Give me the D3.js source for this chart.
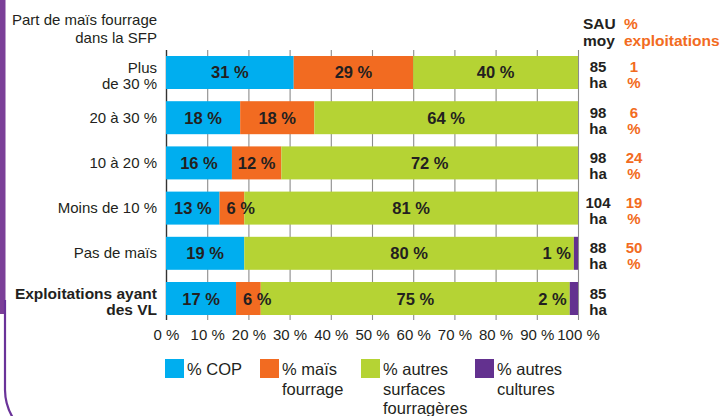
<!DOCTYPE html>
<html>
<head>
<meta charset="utf-8">
<script src="https://cdn.jsdelivr.net/npm/d3@7"></script>
<style>
  html, body { margin: 0; padding: 0; background: #fff; }
  svg { display: block; font-family: "Liberation Sans", Arial, Helvetica, sans-serif; }
</style>
</head>
<body>
<svg id="chart" width="725" height="416"></svg>
<script>
// Categories: share of fodder maize in the forage area (SFP)
const categories = [
  ["Plus", "de 30 %"],
  ["20 à 30 %"],
  ["10 à 20 %"],
  ["Moins de 10 %"],
  ["Pas de maïs"],
  ["Exploitations ayant", "des VL"]
];
const boldCategory = [false, false, false, false, false, true];

// Stacked series (% of the farm area)
const seriesNames = ["% COP", "% maïs fourrage", "% autres surfaces fourragères", "% autres cultures"];
const cop        = [31, 18, 16, 13, 19, 17];
const maisFourr  = [29, 18, 12, 6, 0, 6];
const autresSF   = [40, 64, 72, 81, 80, 75];
const autresCult = [0, 0, 0, 0, 1, 2];

// Right-hand columns
const sauMoy = [85, 98, 98, 104, 88, 85];
const pctExploitations = [1, 6, 24, 19, 50, null];

// Axis ticks
const tickValues = [0, 10, 20, 30, 40, 50, 60, 70, 80, 90, 100];

// Legend text lines
const legendLines = [["% COP"], ["% maïs", "fourrage"], ["% autres", "surfaces", "fourragères"], ["% autres", "cultures"]];

const colors = ["#00aeef", "#f26b21", "#b5d334", "#63318f"];
const textDark = "#231f20";
const orange = "#f26b21";

const svg = d3.select("#chart");

// Frame stroke on the left edge
svg.append("rect").attr("x", 0).attr("y", 0).attr("width", 5.5).attr("height", 314).attr("fill", "#7b3f98");
svg.append("path")
  .attr("d", "M5,300 L5,390 A55,55 0 0 0 13,418")
  .attr("fill", "none").attr("stroke", "#6a3399").attr("stroke-width", 2.2);

const x = d3.scaleLinear().domain([0, 100]).range([166, 578]);
const y = d3.scaleBand().domain(d3.range(categories.length)).range([56, 315]).paddingInner(0.27).paddingOuter(0);

// Grid / bottom axis
const axisTop = 50, axisBottom = 320;
const axis = svg.append("g")
  .attr("transform", `translate(0,${axisBottom})`)
  .call(d3.axisBottom(x).tickValues(tickValues).tickSizeInner(-(axisBottom - axisTop)).tickSizeOuter(0)
    .tickPadding(9).tickFormat(d => d + " %"));
axis.select(".domain").remove();
axis.selectAll(".tick line").attr("stroke", (d) => d === 0 ? "#333" : "#8c8c8c").attr("stroke-width", d => d === 0 ? 1.4 : 1.1);
axis.selectAll(".tick text").attr("fill", textDark).attr("font-size", 15).attr("font-family", null);

// Stacked bars
const rows = categories.map((c, i) => ({ i, vals: [cop[i], maisFourr[i], autresSF[i], autresCult[i]] }));
const stack = d3.stack().keys([0, 1, 2, 3]).value((d, k) => d.vals[k]);
const layers = stack(rows);

const gBars = svg.append("g");
layers.forEach((layer, k) => {
  gBars.selectAll(null).data(layer.filter(d => d[1] > d[0])).enter().append("rect")
    .attr("x", d => x(d[0]))
    .attr("y", d => y(d.data.i))
    .attr("width", d => x(d[1]) - x(d[0]))
    .attr("height", y.bandwidth())
    .attr("fill", colors[k]);
});

// Value labels on segments
const gLab = svg.append("g").attr("font-weight", "bold").attr("font-size", 16.5).attr("fill", textDark);
layers.forEach((layer, k) => {
  layer.filter(d => d[1] > d[0]).forEach(d => {
    const v = d[1] - d[0];
    const cy = y(d.data.i) + y.bandwidth() / 2 + 6;
    const t = gLab.append("text").attr("y", cy).text(v + " %");
    if (k === 3) {
      t.attr("x", x(d[0]) - 3).attr("text-anchor", "end");
    } else {
      const w = t.node().getComputedTextLength();
      const segW = x(d[1]) - x(d[0]);
      if (w + 6 > segW) {
        t.attr("x", x(d[0]) + 7).attr("text-anchor", "start");
      } else {
        t.attr("x", (x(d[0]) + x(d[1])) / 2).attr("text-anchor", "middle");
      }
    }
  });
});

// Category labels
const gCat = svg.append("g").attr("font-size", 15).attr("fill", textDark).attr("text-anchor", "end");
categories.forEach((lines, i) => {
  const cy = y(i) + y.bandwidth() / 2;
  const t = gCat.append("text").attr("x", 157)
    .attr("font-weight", boldCategory[i] ? "bold" : null)
    .attr("font-size", boldCategory[i] ? 15.5 : 15);
  if (lines.length === 1) {
    t.append("tspan").attr("x", 157).attr("y", cy + 5).text(lines[0]);
  } else {
    lines.forEach((ln, j) => t.append("tspan").attr("x", 157).attr("y", cy + 0.5 + j * 16).text(ln));
  }
});

// Header
const gHead = svg.append("g").attr("font-size", 15).attr("fill", textDark);
gHead.append("text").attr("x", 12).attr("y", 25).text("Part de maïs fourrage");
gHead.append("text").attr("x", 157).attr("y", 43).attr("text-anchor", "end").text("dans la SFP");

// Right columns
const gRight = svg.append("g").attr("font-weight", "bold").attr("font-size", 15.5);
const sauHead = gRight.append("text").attr("fill", textDark);
sauHead.append("tspan").attr("x", 583).attr("y", 29).text("SAU");
sauHead.append("tspan").attr("x", 583).attr("y", 46).text("moy");
const explHead = gRight.append("text").attr("fill", orange);
explHead.append("tspan").attr("x", 624).attr("y", 29).text("%");
explHead.append("tspan").attr("x", 624).attr("y", 46).text("exploitations");

// Two-line cell: value on top, unit underneath
function cell(cx, cy, value, unit, fill) {
  const t = gRight.append("text").attr("text-anchor", "middle").attr("fill", fill).attr("font-size", 15);
  t.append("tspan").attr("x", cx).attr("y", cy + 0).text(value);
  t.append("tspan").attr("x", cx).attr("y", cy + 16).text(unit);
}
sauMoy.forEach((v, i) => cell(598, y(i) + y.bandwidth() / 2, v, "ha", textDark));
pctExploitations.forEach((v, i) => {
  if (v === null) return;
  cell(634, y(i) + y.bandwidth() / 2, v, "%", orange);
});

// Legend
const legendX = [165, 260, 361, 475];
const gLeg = svg.append("g").attr("font-size", 16.5).attr("fill", textDark);
seriesNames.forEach((name, k) => {
  gLeg.append("rect").attr("x", legendX[k]).attr("y", 359).attr("width", 19).attr("height", 19).attr("fill", colors[k]);
  const t = gLeg.append("text");
  legendLines[k].forEach((ln, j) => t.append("tspan").attr("x", legendX[k] + 22).attr("y", 375 + j * 19.5).text(ln));
});
</script>
</body>
</html>
